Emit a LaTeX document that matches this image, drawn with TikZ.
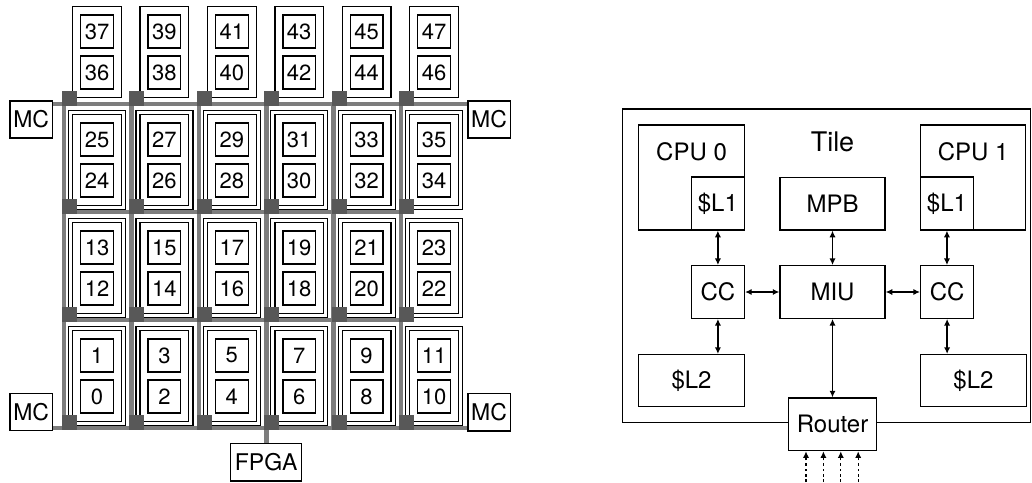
\documentclass[tikz,border=0pt]{standalone}
\usepackage{fontspec}
\setmainfont{TeX Gyre Heros}
\usetikzlibrary{arrows.meta, positioning, calc}

\definecolor{meshgray}{RGB}{125,125,125}
\definecolor{routergray}{RGB}{88,88,88}

\begin{document}
\begin{tikzpicture}[
  x=0.5pt, y=-0.5pt,
  every node/.style={font=\fontsize{12}{14}\selectfont},
  % Styles
  tilebox/.style={draw, line width=0.65pt, minimum width=24.35pt, minimum height=45.3pt, inner sep=0pt, anchor=north west},
  core/.style={draw, line width=0.65pt, minimum width=16.35pt, minimum height=16.5pt, inner sep=0pt, anchor=north, font=\fontsize{11}{13}\selectfont},
  router/.style={fill=routergray, minimum size=7.5pt, inner sep=0pt},
  mesh/.style={line width=2.3pt, draw=meshgray},
  frame/.style={draw, line width=0.6pt},
  io/.style={draw, fill=white, line width=0.65pt, minimum width=21.15pt, minimum height=18.6pt, inner sep=0pt, font=\fontsize{11.5}{13}\selectfont},
  unit/.style={draw, line width=0.65pt, inner sep=0pt, minimum height=26.3pt},
  link/.style={{Latex[length=3.3pt,width=3.1pt]}-{Latex[length=3.3pt,width=3.1pt]}, line width=0.65pt},
  port/.style={-{Latex[length=3.3pt,width=3.1pt]}, dash pattern=on 1.3pt off 1.4pt, line width=0.65pt},
]

  \useasboundingbox (0,0) rectangle (1032,482);

  % ── MESH OF TILES ─────────────────────────────────────────
  \foreach \c in {0,...,5} {
    \foreach \r in {0,...,3} {
      \coordinate (m-\c-\r) at ({64+67.4*\c}, {104+108*\r});
    }
  }

  % Memory controllers and FPGA
  \node[io] (mcTL) at (31.2,119.5) {MC};
  \node[io] (mcTR) at (489,119.5) {MC};
  \node[io] (mcBL) at (31.2,412.2) {MC};
  \node[io] (mcBR) at (489,412.3) {MC};
  \node[io, minimum width=35.5pt, minimum height=18.85pt] (fpga) at (266.2,462.2) {FPGA};

  % Mesh links
  \draw[mesh] (mcTL.east |- m-0-0) -- (mcTR.west |- m-5-0);
  \draw[mesh] (m-0-1) -- (m-5-1);
  \draw[mesh] (m-0-2) -- (m-5-2);
  \draw[mesh] (mcBL.east |- m-0-3) -- (mcBR.west |- m-5-3);
  \foreach \c in {0,...,5}
    \draw[mesh] (m-\c-0) -- (m-\c-3);
  \draw[mesh] (m-3-3) -- (fpga.north);

  % Tiles, cores and routers
  \foreach \c in {0,...,5} {
    \foreach \r in {0,...,3} {
      \pgfmathtruncatemacro\lo{12*(3-\r)+2*\c}
      \pgfmathtruncatemacro\hi{\lo+1}
      \node[tilebox] (t-\c-\r) at ({72+67.4*\c}, {6+108*\r}) {};
      \node[core] (c-\hi) at ([yshift=-4.15pt]t-\c-\r.north) {\hi};
      \node[core] (c-\lo) at ([yshift=-24.65pt]t-\c-\r.north) {\lo};
      \ifnum\r>0
        \draw[frame] ([shift={(-1.75pt,-1.75pt)}]t-\c-\r.south west) rectangle ([shift={(1.75pt,1.75pt)}]t-\c-\r.north east);
      \fi
      \node[router] (r-\c-\r) at ([xshift=2.75pt, yshift=2.75pt]m-\c-\r) {};
    }
  }

  % ── ONE TILE ──────────────────────────────────────────────
  \node[unit, minimum width=203.9pt, minimum height=156.85pt] (tile) at (826.6,265.85) {};

  \node[unit, minimum width=52.5pt] (miu) at (832.5,292) {MIU};
  \node[unit, minimum width=26.5pt, left=17.15pt of miu] (cc0) {CC};
  \node[unit, minimum width=26.5pt, right=17.15pt of miu] (cc1) {CC};
  \node[unit, minimum width=52.5pt, above=17.2pt of miu] (mpb) {MPB};
  \node (tilename) at ([yshift=17.5pt]mpb.north) {\fontsize{13.5}{15}\selectfont Tile};

  % Cores with their L1 caches
  \node[unit, minimum width=52.85pt, minimum height=52.5pt, above=17.2pt of cc0.north east, anchor=south east,
        label={[anchor=center, yshift=-13.85pt]north:CPU 0}] (cpu0) {};
  \node[unit, minimum width=26.5pt, minimum height=26.5pt, anchor=south east] (l1a) at (cpu0.south east) {\$L1};
  \node[unit, minimum width=52.5pt, minimum height=52.5pt, above=17.2pt of cc1.north west, anchor=south west,
        label={[anchor=center, yshift=-13.85pt]north:CPU 1}] (cpu1) {};
  \node[unit, minimum width=26.35pt, minimum height=26.5pt, anchor=south west] (l1b) at (cpu1.south west) {\$L1};

  % L2 caches
  \node[unit, minimum width=52.85pt, minimum height=26pt, below=17.5pt of cc0.south east, anchor=north east] (l2a) {\$L2};
  \node[unit, minimum width=52.85pt, minimum height=26pt, below=17.5pt of cc1.south west, anchor=north west] (l2b) {\$L2};

  % Router on the tile border
  \node[unit, fill=white, minimum width=43.85pt, below=39.2pt of miu] (router) {Router};

  % ── ARROWS ────────────────────────────────────────────────
  \draw[link] (l1a) -- (cc0);
  \draw[link] (mpb) -- (miu);
  \draw[link] (l1b.south) -- (l1b.south |- cc1.north);
  \draw[link] (cc0) -- (miu);
  \draw[link] (miu) -- (cc1);
  \draw[link] (cc0.south) -- (cc0.south |- l2a.north);
  \draw[link] (cc1.south) -- (cc1.south |- l2b.north);
  \draw[link] (miu.south) -- (miu.south |- router.north);

  % Mesh ports into the router
  \foreach \i in {0,...,3} {
    \coordinate (p-\i) at ({806+17.4*\i}, 482);
    \draw[port] (p-\i) -- (p-\i |- router.south);
  }

\end{tikzpicture}
\end{document}
